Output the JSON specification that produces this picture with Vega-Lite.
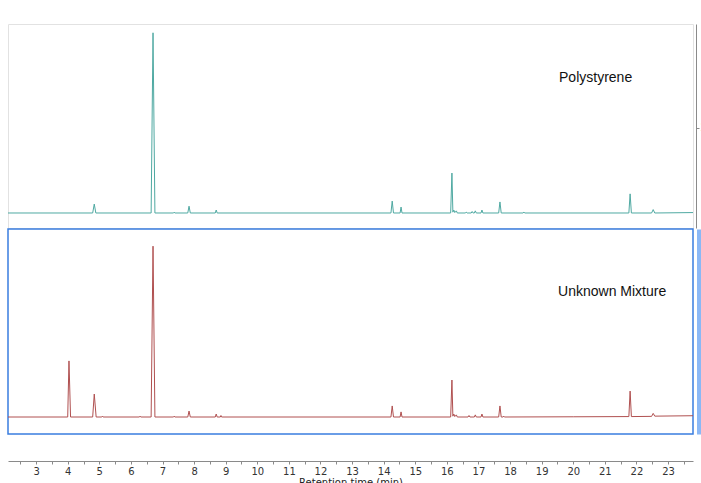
{
  "$schema": "https://vega.github.io/schema/vega-lite/v6.json",
  "background": "white",
  "padding": {"left": 7, "top": 23, "right": 0, "bottom": 0},
  "spacing": -1,
  "config": {
    "axis": {"labelFont": "DejaVu Sans", "titleFont": "DejaVu Sans", "grid": false}
  },
  "datasets": {
    "poly": [
      {"t": 2.11, "y": 0},
      {"t": 4.79, "y": 0}, {"t": 4.84, "y": 0.21}, {"t": 4.89, "y": 0},
      {"t": 6.64, "y": 0}, {"t": 6.70, "y": 4.24}, {"t": 6.76, "y": 0},
      {"t": 7.35, "y": 0}, {"t": 7.37, "y": 0.02}, {"t": 7.39, "y": 0},
      {"t": 7.80, "y": 0}, {"t": 7.84, "y": 0.16}, {"t": 7.88, "y": 0},
      {"t": 8.67, "y": 0}, {"t": 8.70, "y": 0.07}, {"t": 8.73, "y": 0},
      {"t": 14.23, "y": 0}, {"t": 14.27, "y": 0.28}, {"t": 14.31, "y": 0},
      {"t": 14.52, "y": 0}, {"t": 14.55, "y": 0.14}, {"t": 14.58, "y": 0},
      {"t": 16.12, "y": 0}, {"t": 16.16, "y": 0.94}, {"t": 16.19, "y": 0.02}, {"t": 16.22, "y": 0.07}, {"t": 16.25, "y": 0.01}, {"t": 16.30, "y": 0.05}, {"t": 16.33, "y": 0},
      {"t": 16.58, "y": 0}, {"t": 16.61, "y": 0.02}, {"t": 16.64, "y": 0},
      {"t": 16.77, "y": 0}, {"t": 16.80, "y": 0.035}, {"t": 16.83, "y": 0},
      {"t": 16.87, "y": 0}, {"t": 16.90, "y": 0.05}, {"t": 16.93, "y": 0},
      {"t": 17.08, "y": 0}, {"t": 17.11, "y": 0.07}, {"t": 17.14, "y": 0},
      {"t": 17.64, "y": 0}, {"t": 17.68, "y": 0.26}, {"t": 17.72, "y": 0},
      {"t": 18.41, "y": 0}, {"t": 18.44, "y": 0.02}, {"t": 18.47, "y": 0},
      {"t": 21.76, "y": 0}, {"t": 21.80, "y": 0.45}, {"t": 21.84, "y": 0},
      {"t": 22.48, "y": 0}, {"t": 22.53, "y": 0.08}, {"t": 22.58, "y": 0},
      {"t": 23.79, "y": 0.01}
    ],
    "mix": [
      {"t": 2.11, "y": 0},
      {"t": 4.00, "y": 0}, {"t": 4.04, "y": 1.32}, {"t": 4.09, "y": 0},
      {"t": 4.79, "y": 0}, {"t": 4.84, "y": 0.54}, {"t": 4.90, "y": 0},
      {"t": 5.08, "y": 0}, {"t": 5.10, "y": 0.02}, {"t": 5.12, "y": 0},
      {"t": 6.27, "y": 0}, {"t": 6.29, "y": 0.02}, {"t": 6.31, "y": 0},
      {"t": 6.64, "y": 0}, {"t": 6.70, "y": 4.02}, {"t": 6.76, "y": 0},
      {"t": 7.35, "y": 0}, {"t": 7.37, "y": 0.02}, {"t": 7.39, "y": 0},
      {"t": 7.80, "y": 0}, {"t": 7.84, "y": 0.14}, {"t": 7.88, "y": 0},
      {"t": 8.67, "y": 0}, {"t": 8.70, "y": 0.07}, {"t": 8.73, "y": 0},
      {"t": 8.83, "y": 0}, {"t": 8.85, "y": 0.035}, {"t": 8.87, "y": 0},
      {"t": 14.23, "y": 0}, {"t": 14.27, "y": 0.26}, {"t": 14.31, "y": 0},
      {"t": 14.52, "y": 0}, {"t": 14.55, "y": 0.12}, {"t": 14.58, "y": 0},
      {"t": 16.12, "y": 0}, {"t": 16.16, "y": 0.87}, {"t": 16.19, "y": 0.02}, {"t": 16.22, "y": 0.07}, {"t": 16.25, "y": 0.01}, {"t": 16.30, "y": 0.05}, {"t": 16.33, "y": 0},
      {"t": 16.67, "y": 0}, {"t": 16.70, "y": 0.035}, {"t": 16.73, "y": 0},
      {"t": 16.87, "y": 0}, {"t": 16.90, "y": 0.05}, {"t": 16.93, "y": 0},
      {"t": 17.08, "y": 0}, {"t": 17.11, "y": 0.07}, {"t": 17.14, "y": 0},
      {"t": 17.64, "y": 0}, {"t": 17.68, "y": 0.26}, {"t": 17.72, "y": 0},
      {"t": 17.78, "y": 0}, {"t": 17.80, "y": 0.02}, {"t": 17.82, "y": 0},
      {"t": 20.0, "y": 0.005},
      {"t": 21.76, "y": 0.01}, {"t": 21.80, "y": 0.61}, {"t": 21.84, "y": 0.01},
      {"t": 22.48, "y": 0.015}, {"t": 22.53, "y": 0.085}, {"t": 22.58, "y": 0.02},
      {"t": 23.79, "y": 0.03}
    ],
    "labels": [
      {"name": "Polystyrene", "t": 19.55, "y": 3.18},
      {"name": "Unknown Mixture", "t": 19.52, "y": 2.94}
    ]
  },
  "vconcat": [
    {
      "width": 685,
      "height": 204,
      "view": {"stroke": "#e2e2e2", "strokeWidth": 1},
      "layer": [
        {
          "data": {"name": "poly"},
          "mark": {"type": "line", "stroke": "#4fa9a2", "strokeWidth": 1, "clip": true},
          "encoding": {
            "x": {"field": "t", "type": "quantitative", "scale": {"domain": [2.11, 23.79], "nice": false, "zero": false}, "axis": null},
            "y": {"field": "y", "type": "quantitative", "scale": {"domain": [-0.353, 4.447], "nice": false, "zero": false},
              "axis": {"orient": "right", "offset": 3, "values": [2], "title": null, "domainColor": "#8a8a8a", "tickColor": "#8a8a8a", "tickSize": 3, "labelFontSize": 10, "labelPadding": 1, "labelColor": "#333333"}}
          }
        },
        {
          "data": {"name": "labels"},
          "transform": [{"filter": "datum.name == 'Polystyrene'"}],
          "mark": {"type": "text", "align": "left", "baseline": "middle", "font": "Liberation Sans", "fontSize": 14, "color": "#111111"},
          "encoding": {
            "x": {"field": "t", "type": "quantitative"},
            "y": {"field": "y", "type": "quantitative"},
            "text": {"field": "name"}
          }
        }
      ]
    },
    {
      "width": 685,
      "height": 205,
      "view": {"stroke": "#3a7ee0", "strokeWidth": 1.5},
      "layer": [
        {
          "data": {"name": "mix"},
          "mark": {"type": "line", "stroke": "#b05050", "strokeWidth": 1, "clip": true},
          "encoding": {
            "x": {"field": "t", "type": "quantitative", "scale": {"domain": [2.11, 23.79], "nice": false, "zero": false},
              "axis": {"orient": "bottom", "offset": 27, "title": "Retention time (min)", "titleFontSize": 10, "titleFontWeight": "normal", "titleColor": "#222222", "titlePadding": 1,
                "values": [2.5, 3, 3.5, 4, 4.5, 5, 5.5, 6, 6.5, 7, 7.5, 8, 8.5, 9, 9.5, 10, 10.5, 11, 11.5, 12, 12.5, 13, 13.5, 14, 14.5, 15, 15.5, 16, 16.5, 17, 17.5, 18, 18.5, 19, 19.5, 20, 20.5, 21, 21.5, 22, 22.5, 23, 23.5],
                "tickCount": 100,
                "labelExpr": "floor(datum.value) == datum.value ? format(datum.value, 'd') : ''",
                "domainColor": "#8a8a8a", "tickColor": "#8a8a8a", "tickSize": 3, "labelFontSize": 10, "labelColor": "#333333", "labelPadding": 2, "labelFlush": false, "labelOverlap": false, "labelBound": false}},
            "y": {"field": "y", "type": "quantitative", "scale": {"domain": [-0.4, 4.424], "nice": false, "zero": false},
              "axis": {"orient": "right", "offset": 6, "values": [2], "title": null, "domainColor": "#8ab8f6", "domainWidth": 5, "tickColor": "#8a8a8a", "tickSize": 3, "labelFontSize": 10, "labelPadding": 1, "labelColor": "#333333"}}
          }
        },
        {
          "data": {"name": "labels"},
          "transform": [{"filter": "datum.name == 'Unknown Mixture'"}],
          "mark": {"type": "text", "align": "left", "baseline": "middle", "font": "Liberation Sans", "fontSize": 14, "color": "#111111"},
          "encoding": {
            "x": {"field": "t", "type": "quantitative"},
            "y": {"field": "y", "type": "quantitative"},
            "text": {"field": "name"}
          }
        }
      ]
    }
  ]
}
